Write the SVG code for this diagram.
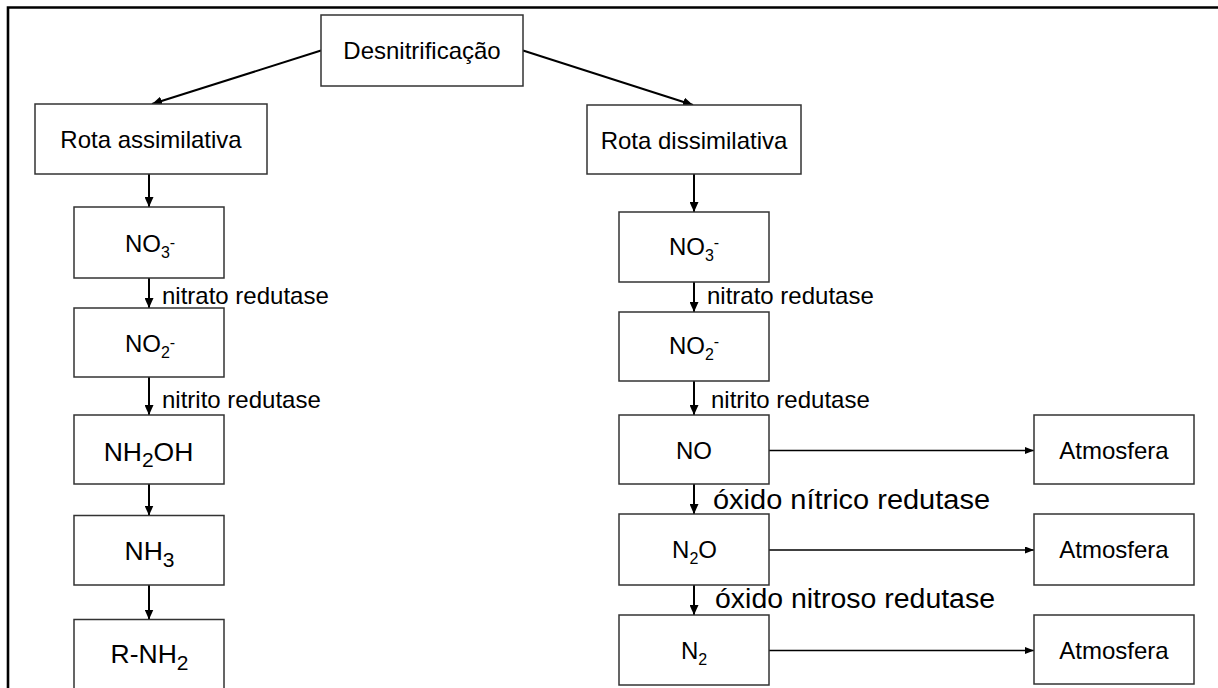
<svg xmlns="http://www.w3.org/2000/svg" width="1218" height="688" viewBox="0 0 1218 688">
<defs>
<marker id="ah" markerUnits="userSpaceOnUse" markerWidth="11" markerHeight="9" refX="10" refY="4.5" orient="auto">
<path d="M0,0 L10,4.5 L0,9 z" fill="#000"/>
</marker>
<marker id="ahs" markerUnits="userSpaceOnUse" markerWidth="10" markerHeight="8" refX="9" refY="3.5" orient="auto">
<path d="M0,0 L9,3.5 L0,7 z" fill="#000"/>
</marker>
</defs>
<style>
.box{fill:#fff;stroke:#333;stroke-width:1.5}
text{font-family:"Liberation Sans",Arial,sans-serif;fill:#000}
.t{font-size:24px;text-anchor:middle}
.big{font-size:26.5px}
.lbl{font-size:24px}
.lbl2{font-size:27px}
.c{stroke:#000;stroke-width:2;fill:none}
.h{stroke:#000;stroke-width:1.6;fill:none}
</style>
<rect width="1218" height="688" fill="#fff"/>
<path d="M8 688 V7.5 H1218" fill="none" stroke="#000" stroke-width="2.6"/>

<g id="connectors">
<line class="c" x1="321" y1="50.5" x2="152" y2="104" marker-end="url(#ah)"/>
<line class="c" x1="523" y1="50.5" x2="693" y2="105" marker-end="url(#ah)"/>
<line class="c" x1="149" y1="174" x2="149" y2="207" marker-end="url(#ah)"/>
<line class="c" x1="149" y1="278" x2="149" y2="308" marker-end="url(#ah)"/>
<line class="c" x1="149" y1="377" x2="149" y2="415" marker-end="url(#ah)"/>
<line class="c" x1="149" y1="484" x2="149" y2="515.5" marker-end="url(#ah)"/>
<line class="c" x1="149" y1="585" x2="149" y2="619.5" marker-end="url(#ah)"/>
<line class="c" x1="694" y1="174" x2="694" y2="212" marker-end="url(#ah)"/>
<line class="c" x1="694" y1="282" x2="694" y2="312" marker-end="url(#ah)"/>
<line class="c" x1="694" y1="381" x2="694" y2="415" marker-end="url(#ah)"/>
<line class="c" x1="694" y1="484" x2="694" y2="514" marker-end="url(#ah)"/>
<line class="c" x1="694" y1="585" x2="694" y2="615" marker-end="url(#ah)"/>
<line class="h" x1="769" y1="450.5" x2="1034" y2="450.5" marker-end="url(#ahs)"/>
<line class="h" x1="769" y1="550" x2="1034" y2="550" marker-end="url(#ahs)"/>
<line class="h" x1="769" y1="650.5" x2="1034" y2="650.5" marker-end="url(#ahs)"/>
<text class="lbl" x="162" y="304">nitrato redutase</text>
<text class="lbl" x="162" y="408">nitrito redutase</text>
<text class="lbl" x="707" y="304">nitrato redutase</text>
<text class="lbl" x="711" y="408">nitrito redutase</text>
<text class="lbl2" x="713" y="509" textLength="277" lengthAdjust="spacingAndGlyphs">óxido nítrico redutase</text>
<text class="lbl2" x="715" y="608" textLength="280" lengthAdjust="spacingAndGlyphs">óxido nitroso redutase</text>
</g>

<g id="desnitrificacao">
<rect class="box" x="321" y="15" width="202" height="71"/>
<text class="t" x="422" y="59">Desnitrificação</text>
</g>
<g id="rota-assimilativa">
<rect class="box" x="35" y="104" width="232" height="70"/>
<text class="t" x="151" y="148">Rota assimilativa</text>
</g>
<g id="rota-dissimilativa">
<rect class="box" x="587" y="105" width="214" height="69"/>
<text class="t" x="694" y="149">Rota dissimilativa</text>
</g>

<g id="a-no3">
<rect class="box" x="74" y="207" width="150" height="71"/>
<text class="t" x="150" y="252">NO<tspan font-size="16" dy="5.5">3</tspan><tspan font-size="16" dy="-10">-</tspan></text>
</g>
<g id="a-no2">
<rect class="box" x="74" y="308" width="150" height="69"/>
<text class="t" x="150" y="352">NO<tspan font-size="16" dy="5.5">2</tspan><tspan font-size="16" dy="-10">-</tspan></text>
</g>
<g id="a-nh2oh">
<rect class="box" x="74" y="415" width="150" height="69"/>
<text class="t big" x="148.5" y="461">NH<tspan font-size="21" dy="6">2</tspan><tspan dy="-6">OH</tspan></text>
</g>
<g id="a-nh3">
<rect class="box" x="74" y="515.5" width="150" height="69.5"/>
<text class="t big" x="149.5" y="560">NH<tspan font-size="21" dy="6.5">3</tspan></text>
</g>
<g id="a-rnh2">
<rect class="box" x="74" y="619.5" width="150" height="90"/>
<text class="t big" x="149.5" y="663">R-NH<tspan font-size="21" dy="7">2</tspan></text>
</g>

<g id="d-no3">
<rect class="box" x="619" y="212" width="150" height="70"/>
<text class="t" x="694" y="255">NO<tspan font-size="16" dy="6">3</tspan><tspan font-size="16" dy="-13">-</tspan></text>
</g>
<g id="d-no2">
<rect class="box" x="619" y="312" width="150" height="69"/>
<text class="t" x="694" y="354">NO<tspan font-size="16" dy="6">2</tspan><tspan font-size="16" dy="-13">-</tspan></text>
</g>
<g id="d-no">
<rect class="box" x="619" y="415" width="150" height="69"/>
<text class="t" x="694" y="459">NO</text>
</g>
<g id="d-n2o">
<rect class="box" x="619" y="514" width="150" height="71"/>
<text class="t" x="694.5" y="558">N<tspan font-size="16" dy="6">2</tspan><tspan dy="-6">O</tspan></text>
</g>
<g id="d-n2">
<rect class="box" x="619" y="615" width="150" height="70"/>
<text class="t" x="694" y="659">N<tspan font-size="16" dy="6">2</tspan></text>
</g>

<g id="atm-1">
<rect class="box" x="1034" y="415" width="160" height="69"/>
<text class="t" x="1114" y="459">Atmosfera</text>
</g>
<g id="atm-2">
<rect class="box" x="1034" y="514" width="160" height="71"/>
<text class="t" x="1114" y="558">Atmosfera</text>
</g>
<g id="atm-3">
<rect class="box" x="1034" y="615" width="160" height="69"/>
<text class="t" x="1114" y="659">Atmosfera</text>
</g>
</svg>
